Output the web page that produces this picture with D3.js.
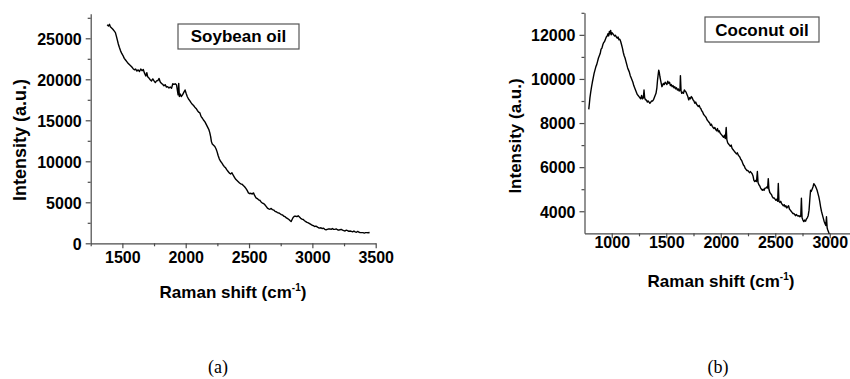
<!DOCTYPE html>
<html>
<head>
<meta charset="utf-8">
<script src="https://cdn.jsdelivr.net/npm/d3@7"></script>
<style>
  body { margin: 0; background: #fff; }
  svg { display: block; }
</style>
</head>
<body>
<svg id="chart" width="850" height="379"></svg>
<script>
// Raman spectra: [shift cm-1, intensity a.u.]
const soybean = [
  [1380,26650],[1390,26500],[1398,26700],[1405,26400],[1415,26250],[1425,26100],[1435,25900],[1445,25700],
  [1452,25300],[1460,24800],[1468,24300],[1476,23900],[1485,23500],[1495,23150],[1505,22900],[1515,22550],
  [1525,22350],[1535,22150],[1545,21950],[1555,21800],[1565,21650],[1575,21500],[1585,21300],[1595,21150],
  [1605,21250],[1615,21000],[1625,21150],[1635,20950],[1645,21250],[1655,21050],[1665,21200],[1675,20750],
  [1685,20400],[1693,20800],[1700,20300],[1710,20150],[1720,19950],[1730,19800],[1740,20050],[1750,19800],
  [1760,19600],[1770,19800],[1780,19850],[1790,20100],[1798,19700],[1808,19500],[1818,19400],[1828,19200],
  [1838,19350],[1848,19050],[1858,19100],[1868,18950],[1878,19050],[1888,18900],[1898,19450],[1908,19400],
  [1918,19450],[1928,19300],[1935,18600],[1940,18100],[1945,19500],[1950,17900],[1958,18200],[1965,17900],
  [1975,18100],[1985,18400],[1995,18700],[2003,18300],[2012,17900],[2022,17600],[2032,17400],[2042,17150],
  [2052,16950],[2062,16800],[2072,16600],[2082,16450],[2092,16200],[2102,16000],[2112,15900],[2122,15450],
  [2132,15250],[2142,15000],[2152,14800],[2162,14500],[2172,14200],[2182,13900],[2190,13500],[2197,13000],
  [2203,12400],[2210,12100],[2220,11950],[2230,11800],[2240,11500],[2248,11150],[2256,10700],[2265,10300],
  [2275,10000],[2285,9800],[2295,9550],[2305,9350],[2315,9200],[2325,8950],[2335,8750],[2345,8550],
  [2355,8450],[2365,8600],[2375,8300],[2385,8050],[2395,7800],[2405,7650],[2415,7500],[2425,7350],
  [2435,7250],[2445,7200],[2455,7050],[2465,6900],[2475,6700],[2485,6450],[2495,6150],[2505,6050],
  [2515,6100],[2525,6000],[2535,6150],[2545,5800],[2555,5550],[2565,5450],[2575,5300],[2585,5250],
  [2595,5050],[2605,4900],[2615,4850],[2625,4700],[2635,4500],[2645,4300],[2655,4200],[2665,4150],
  [2675,4250],[2685,4100],[2695,4050],[2705,3900],[2715,3850],[2725,3750],[2735,3700],[2745,3600],
  [2755,3500],[2765,3450],[2775,3300],[2785,3250],[2795,3100],[2805,3000],[2815,2900],[2825,2750],
  [2832,2650],[2840,2900],[2848,3150],[2858,3300],[2868,3300],[2878,3250],[2888,3350],[2898,3200],
  [2908,3050],[2918,2950],[2928,2900],[2938,2750],[2948,2650],[2958,2550],[2968,2500],[2978,2400],
  [2988,2300],[2998,2200],[3008,2150],[3018,2050],[3028,2100],[3038,2000],[3048,1900],[3058,1850],
  [3068,1900],[3078,1800],[3088,1850],[3098,1700],[3108,1650],[3118,1700],[3128,1750],[3138,1750],
  [3148,1700],[3158,1800],[3168,1700],[3178,1700],[3188,1750],[3198,1650],[3208,1600],[3218,1650],
  [3228,1700],[3238,1600],[3248,1550],[3258,1500],[3268,1600],[3278,1550],[3288,1450],[3298,1500],
  [3308,1450],[3318,1400],[3328,1500],[3338,1400],[3348,1350],[3358,1450],[3368,1350],[3378,1300],
  [3390,1300],[3400,1300],[3410,1250],[3420,1300],[3430,1300],[3440,1280],[3452,1320]
];

const coconut = [
  [789,8620],[795,8900],[800,9150],[807,9400],[815,9650],[822,9850],[830,10050],[838,10250],
  [846,10400],[854,10550],[862,10650],[870,10800],[878,10950],[886,11050],[894,11150],[902,11350],
  [910,11400],[918,11550],[926,11650],[934,11700],[942,11800],[950,11900],[958,11950],[965,12050],
  [972,11950],[978,12150],[984,12050],[990,12200],[996,12000],[1002,12100],[1010,12050],[1018,12000],
  [1026,11950],[1034,11980],[1042,11900],[1050,11850],[1058,11900],[1066,11780],[1074,11800],[1082,11700],
  [1090,11550],[1098,11400],[1106,11200],[1114,11050],[1122,10950],[1130,10800],[1138,10650],[1146,10500],
  [1154,10400],[1162,10300],[1170,10150],[1178,10050],[1186,9950],[1194,9850],[1202,9700],[1210,9600],
  [1218,9500],[1226,9400],[1234,9300],[1242,9250],[1250,9200],[1258,9150],[1266,9100],[1274,9250],
  [1282,9100],[1290,9150],[1296,9500],[1302,9150],[1310,9050],[1318,9050],[1326,8950],[1334,9000],
  [1342,8950],[1350,8900],[1358,8950],[1366,9000],[1374,9000],[1382,9050],[1390,9150],[1398,9250],
  [1406,9350],[1414,9600],[1420,9950],[1426,10200],[1431,10400],[1436,10300],[1442,10100],[1448,9950],
  [1454,9800],[1460,9650],[1466,9700],[1474,9800],[1482,9750],[1490,9850],[1498,9800],[1506,9750],
  [1514,9900],[1522,9800],[1530,9850],[1538,9700],[1546,9750],[1554,9650],[1562,9700],[1570,9600],
  [1578,9650],[1586,9550],[1594,9600],[1602,9500],[1610,9550],[1618,9450],[1626,9500],[1630,10150],
  [1636,9450],[1642,9350],[1650,9400],[1658,9350],[1666,9500],[1674,9450],[1682,9400],[1690,9300],
  [1698,9200],[1706,9050],[1714,9150],[1722,9100],[1730,9200],[1738,9150],[1746,9050],[1754,9000],
  [1762,8900],[1770,8950],[1778,8850],[1786,8800],[1794,8750],[1802,8800],[1810,8700],[1818,8650],
  [1826,8550],[1834,8500],[1842,8400],[1850,8350],[1858,8300],[1866,8250],[1874,8150],[1882,8100],
  [1890,8050],[1898,8000],[1906,7900],[1914,7950],[1922,7850],[1930,7800],[1938,7750],[1946,7800],
  [1954,7700],[1962,7650],[1970,7750],[1978,7600],[1986,7650],[1994,7550],[2002,7500],[2010,7450],
  [2018,7400],[2026,7350],[2034,7450],[2042,7300],[2050,7800],[2056,7250],[2064,7100],[2072,7050],
  [2080,7000],[2088,6950],[2096,7000],[2104,6850],[2112,6800],[2120,6750],[2128,6700],[2136,6650],
  [2144,6600],[2152,6650],[2160,6550],[2168,6500],[2176,6450],[2184,6350],[2192,6300],[2200,6200],
  [2208,6100],[2216,6050],[2224,5950],[2232,5900],[2240,5850],[2248,5850],[2256,5800],[2264,5750],
  [2272,5800],[2280,5750],[2288,5700],[2296,5600],[2304,5400],[2312,5350],[2320,5400],[2328,5350],
  [2336,5800],[2342,5300],[2350,5200],[2358,5150],[2366,5050],[2374,5000],[2382,4950],[2390,5000],
  [2398,4950],[2406,5050],[2414,5050],[2422,5100],[2430,5050],[2436,5480],[2442,5000],[2450,4850],
  [2458,4800],[2466,4750],[2474,4650],[2482,4600],[2490,4600],[2498,4550],[2506,4500],[2514,4550],
  [2522,4450],[2528,5260],[2534,4450],[2542,4400],[2550,4450],[2558,4350],[2566,4300],[2574,4250],
  [2582,4300],[2590,4200],[2598,4250],[2606,4150],[2614,4200],[2622,4250],[2630,4100],[2638,4050],
  [2646,4000],[2654,3950],[2662,3900],[2670,3900],[2678,3850],[2686,3800],[2694,3850],[2702,3800],
  [2710,3780],[2718,3800],[2726,3750],[2734,3780],[2740,4590],[2746,3700],[2754,3600],[2762,3530],
  [2770,3600],[2778,3550],[2786,3650],[2794,3700],[2802,3800],[2810,4050],[2818,4600],[2824,4950],
  [2830,4900],[2838,5000],[2846,5100],[2854,5250],[2860,5200],[2868,5150],[2876,5050],[2884,4950],
  [2892,4800],[2900,4650],[2908,4450],[2916,4200],[2924,4000],[2932,3850],[2940,3700],[2948,3550],
  [2956,3450],[2964,3350],[2970,3750],[2976,3250],[2982,3150],[2990,3050],[2996,2980]
];

const soyXTicks = [1500, 2000, 2500, 3000, 3500];
const soyXMinor = [1250, 1750, 2250, 2750, 3250];
const soyYTicks = [0, 5000, 10000, 15000, 20000, 25000];
const soyYMinor = [2500, 7500, 12500, 17500, 22500, 27500];

const cocoXTicks = [1000, 1500, 2000, 2500, 3000];
const cocoXMinor = [1250, 1750, 2250, 2750];
const cocoYTicks = [4000, 6000, 8000, 10000, 12000];
const cocoYMinor = [5000, 7000, 9000, 11000, 13000];

const svg = d3.select('#chart');
const axisColor = '#4a4a4a';
const sans = '"Liberation Sans", Arial, sans-serif';

function panel(o) {
  const x = d3.scaleLinear().domain(o.xDomain).range(o.xRange);
  const y = d3.scaleLinear().domain(o.yDomain).range(o.yRange);
  const g = svg.append('g');
  const bottom = o.yRange[0];
  const left = o.xRange[0];

  // x axis
  const xa = g.append('g')
    .attr('transform', `translate(0,${bottom})`)
    .call(d3.axisBottom(x).tickValues(o.xTicks).tickSize(5).tickSizeOuter(0).tickFormat(d3.format('d')));
  g.append('g')
    .attr('transform', `translate(0,${bottom})`)
    .call(d3.axisBottom(x).tickValues(o.xMinor).tickSize(3).tickSizeOuter(0).tickFormat(''))
    .select('.domain').remove();

  // y axis
  const ya = g.append('g')
    .attr('transform', `translate(${left},0)`)
    .call(d3.axisLeft(y).tickValues(o.yTicks).tickSize(5).tickSizeOuter(0).tickPadding(4).tickFormat(d3.format('d')));
  g.append('g')
    .attr('transform', `translate(${left},0)`)
    .call(d3.axisLeft(y).tickValues(o.yMinor).tickSize(3).tickSizeOuter(0).tickFormat(''))
    .select('.domain').remove();

  g.selectAll('.domain, .tick line').attr('stroke', axisColor).attr('stroke-width', 1.2);
  g.selectAll('.tick text')
    .style('font-family', sans).style('font-weight', 'bold').style('font-size', '16px').attr('fill', '#000');
  xa.selectAll('.tick text').attr('dy', null).attr('y', o.xLabelY - bottom);
  ya.selectAll('.tick text').attr('dy', '0.36em');

  // spectrum
  g.append('path')
    .datum(o.data)
    .attr('fill', 'none')
    .attr('stroke', '#000')
    .attr('stroke-width', 1.4)
    .attr('stroke-linejoin', 'round')
    .attr('d', d3.line().x(d => x(d[0])).y(d => y(d[1])));

  // legend box
  g.append('rect')
    .attr('x', o.box[0]).attr('y', o.box[1]).attr('width', o.box[2]).attr('height', o.box[3])
    .attr('fill', '#fff').attr('stroke', '#555').attr('stroke-width', 1.2);
  g.append('text')
    .attr('x', o.box[0] + o.box[2] / 2).attr('y', o.box[4])
    .attr('text-anchor', 'middle')
    .style('font-family', sans).style('font-weight', 'bold').style('font-size', '17px')
    .text(o.name);

  // axis titles
  const xt = g.append('text')
    .attr('x', o.xTitle[0]).attr('y', o.xTitle[1])
    .attr('text-anchor', 'middle')
    .style('font-family', sans).style('font-weight', 'bold').style('font-size', '17px');
  xt.append('tspan').text('Raman shift (cm');
  xt.append('tspan').attr('dy', -7).style('font-size', '10px').text('-1');
  xt.append('tspan').attr('dy', 7).text(')');

  g.append('text')
    .attr('transform', `translate(${o.yTitle[0]},${o.yTitle[1]}) rotate(-90)`)
    .attr('text-anchor', 'middle')
    .style('font-family', sans).style('font-weight', 'bold').style('font-size', o.yTitleSize + 'px')
    .text('Intensity (a.u.)');

  // caption
  g.append('text')
    .attr('x', o.caption[0]).attr('y', o.caption[1])
    .attr('text-anchor', 'middle')
    .style('font-family', '"Liberation Serif", "Times New Roman", serif')
    .style('font-size', '18px')
    .text(o.label);
}

panel({
  data: soybean, name: 'Soybean oil', label: '(a)',
  xDomain: [1250, 3500], xRange: [90.7, 375.7],
  yDomain: [0, 28000], yRange: [243.3, 13.7],
  xTicks: soyXTicks, xMinor: soyXMinor, yTicks: soyYTicks, yMinor: soyYMinor,
  xLabelY: 263, box: [178, 24, 121, 25, 42], xTitle: [233, 298], yTitle: [26, 140], yTitleSize: 18,
  caption: [218, 373]
});

panel({
  data: coconut, name: 'Coconut oil', label: '(b)',
  xDomain: [750, 3250], xRange: [584.5, 857],
  yDomain: [3000, 13000], yRange: [233.3, 12.8],
  xTicks: cocoXTicks, xMinor: cocoXMinor, yTicks: cocoYTicks, yMinor: cocoYMinor,
  xLabelY: 248.5, box: [705, 17, 114, 25, 36], xTitle: [721, 287], yTitle: [521, 136], yTitleSize: 17,
  caption: [718, 373]
});
</script>
</body>
</html>
